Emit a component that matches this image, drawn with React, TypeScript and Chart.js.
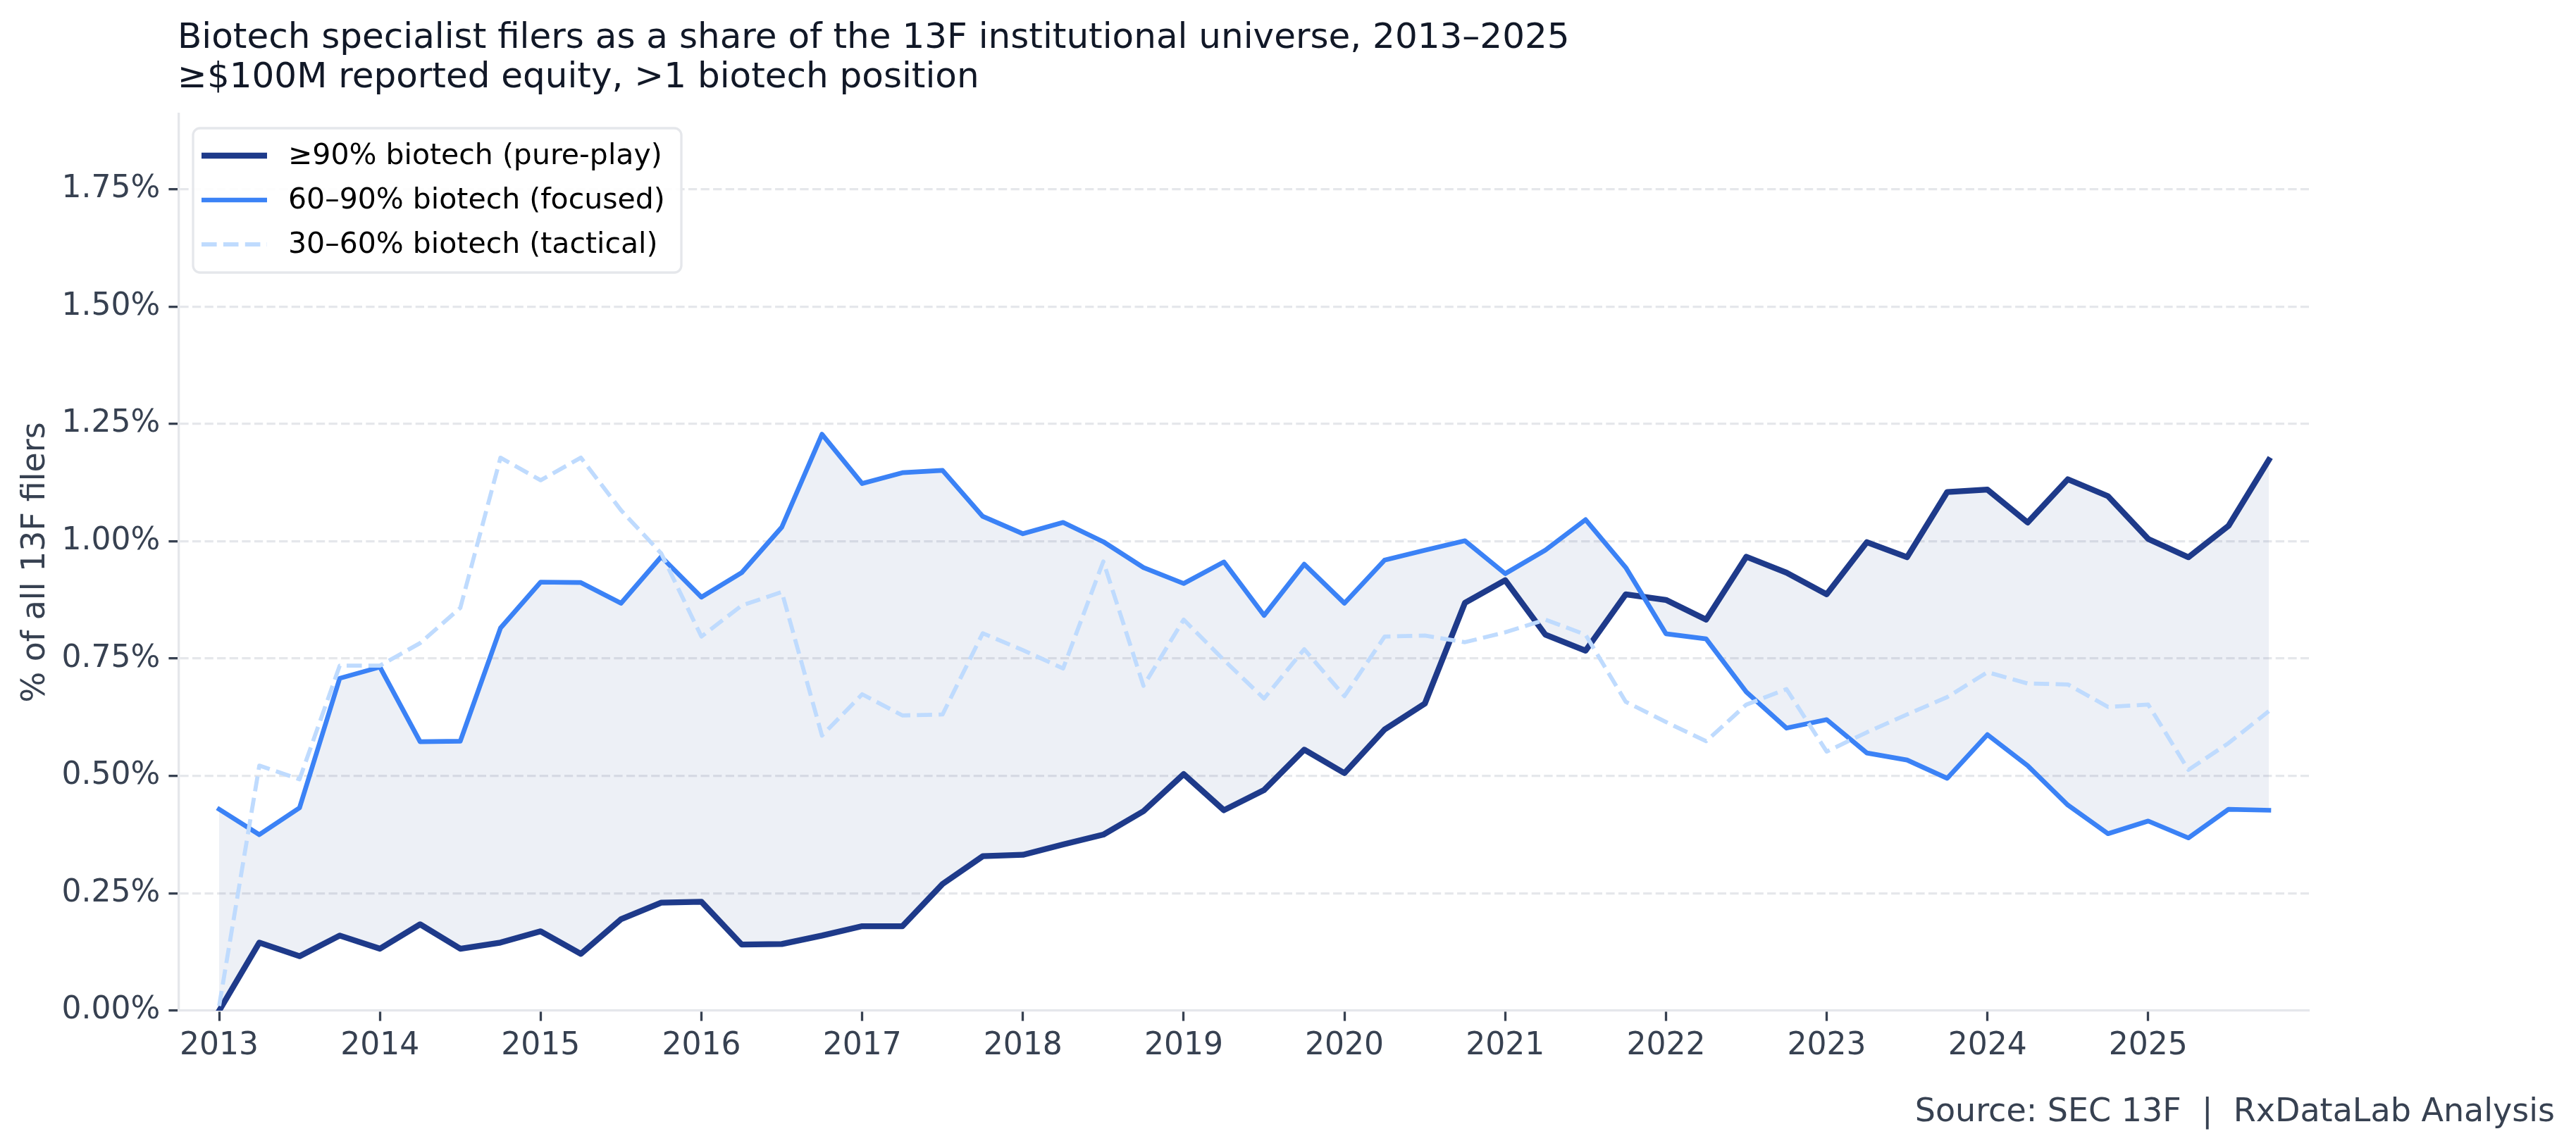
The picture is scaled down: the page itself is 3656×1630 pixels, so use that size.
import { useEffect, useRef } from 'react';
import { Chart, registerables } from 'chart.js';

Chart.register(...registerables);

// Quarterly reporting periods (13F filings)
const quarters = [
  '2013-Q1', '2013-Q2', '2013-Q3', '2013-Q4',
  '2014-Q1', '2014-Q2', '2014-Q3', '2014-Q4',
  '2015-Q1', '2015-Q2', '2015-Q3', '2015-Q4',
  '2016-Q1', '2016-Q2', '2016-Q3', '2016-Q4',
  '2017-Q1', '2017-Q2', '2017-Q3', '2017-Q4',
  '2018-Q1', '2018-Q2', '2018-Q3', '2018-Q4',
  '2019-Q1', '2019-Q2', '2019-Q3', '2019-Q4',
  '2020-Q1', '2020-Q2', '2020-Q3', '2020-Q4',
  '2021-Q1', '2021-Q2', '2021-Q3', '2021-Q4',
  '2022-Q1', '2022-Q2', '2022-Q3', '2022-Q4',
  '2023-Q1', '2023-Q2', '2023-Q3', '2023-Q4',
  '2024-Q1', '2024-Q2', '2024-Q3', '2024-Q4',
  '2025-Q1', '2025-Q2', '2025-Q3', '2025-Q4',
];

// Share of all 13F filers, in percent
const purePlay = [
  0.0, 0.145, 0.116, 0.16, 0.132, 0.184, 0.132, 0.145, 0.169, 0.121, 0.195, 0.23,
  0.232, 0.141, 0.142, 0.16, 0.18, 0.18, 0.27, 0.329, 0.332, 0.354, 0.375, 0.425,
  0.504, 0.427, 0.47, 0.556, 0.506, 0.599, 0.654, 0.869, 0.917, 0.801, 0.767, 0.887,
  0.875, 0.833, 0.967, 0.933, 0.887, 0.998, 0.966, 1.105, 1.11, 1.04, 1.132, 1.096,
  1.005, 0.966, 1.033, 1.173,
];

const focused = [
  0.429, 0.375, 0.432, 0.708, 0.732, 0.573, 0.574, 0.815, 0.913, 0.912, 0.868, 0.967,
  0.881, 0.933, 1.03, 1.228, 1.123, 1.146, 1.151, 1.053, 1.016, 1.04, 0.999, 0.944,
  0.91, 0.956, 0.842, 0.951, 0.868, 0.96, 0.981, 1.001, 0.931, 0.981, 1.046, 0.944,
  0.803, 0.792, 0.679, 0.602, 0.62, 0.549, 0.534, 0.495, 0.588, 0.522, 0.438, 0.377,
  0.404, 0.368, 0.429, 0.427,
];

const tactical = [
  0.01, 0.522, 0.493, 0.735, 0.735, 0.783, 0.858, 1.178, 1.13, 1.178, 1.066, 0.974,
  0.797, 0.863, 0.892, 0.586, 0.674, 0.629, 0.631, 0.804, 0.768, 0.729, 0.957, 0.692,
  0.833, 0.747, 0.665, 0.77, 0.67, 0.797, 0.799, 0.785, 0.806, 0.833, 0.801, 0.658,
  0.615, 0.574, 0.652, 0.685, 0.552, 0.593, 0.631, 0.668, 0.721, 0.697, 0.695, 0.647,
  0.652, 0.513, 0.57, 0.638,
];

const yearTicks = [2013, 2014, 2015, 2016, 2017, 2018, 2019, 2020, 2021, 2022, 2023, 2024, 2025];
const shareTicks = [0, 0.25, 0.5, 0.75, 1.0, 1.25, 1.5, 1.75];

const seriesLabels = [
  '≥90% biotech (pure-play)',
  '60–90% biotech (focused)',
  '30–60% biotech (tactical)',
];

const titleLines = [
  'Biotech specialist filers as a share of the 13F institutional universe, 2013–2025',
  '≥$100M reported equity, >1 biotech position',
];
const sourceNote = 'Source: SEC 13F  |  RxDataLab Analysis';
const yAxisTitle = '% of all 13F filers';

const FONT = '"DejaVu Sans", sans-serif';
const SLATE = '#374151';
const RULE = '#e5e7eb';

const toYear = (q: string) => {
  const [y, n] = q.split('-Q');
  return Number(y) + (Number(n) - 1) / 4;
};

// Title, source note, axis title and an in-plot legend box
const decorPlugin = {
  id: 'decor',
  afterDraw(chart: any) {
    const { ctx, chartArea } = chart;
    ctx.save();
    ctx.fillStyle = '#111827';
    ctx.font = `50px ${FONT}`;
    ctx.textAlign = 'left';
    ctx.textBaseline = 'alphabetic';
    ctx.fillText(titleLines[0], 252, 68);
    ctx.fillText(titleLines[1], 252, 124);

    ctx.fillStyle = SLATE;
    ctx.font = `46px ${FONT}`;
    ctx.textAlign = 'right';
    ctx.fillText(sourceNote, 3626, 1592);

    ctx.translate(51, (chartArea.top + chartArea.bottom) / 2);
    ctx.rotate(-Math.PI / 2);
    ctx.textAlign = 'center';
    ctx.textBaseline = 'middle';
    ctx.fillText(yAxisTitle, 0, 0);
    ctx.restore();

    // legend
    ctx.save();
    const bx = 274, by = 182, bw = 693, bh = 205, r = 10;
    ctx.beginPath();
    ctx.roundRect(bx, by, bw, bh, r);
    ctx.fillStyle = 'rgba(255,255,255,0.9)';
    ctx.fill();
    ctx.lineWidth = 3.3;
    ctx.strokeStyle = RULE;
    ctx.stroke();
    chart.data.datasets.forEach((ds: any, k: number) => {
      const cy = 221 + k * 63;
      ctx.beginPath();
      ctx.setLineDash(ds.borderDash || []);
      ctx.lineWidth = ds.borderWidth;
      ctx.strokeStyle = ds.borderColor;
      ctx.lineCap = 'butt';
      ctx.moveTo(286, cy);
      ctx.lineTo(379, cy);
      ctx.stroke();
      ctx.setLineDash([]);
      ctx.fillStyle = '#000000';
      ctx.font = `41px ${FONT}`;
      ctx.textAlign = 'left';
      ctx.textBaseline = 'middle';
      ctx.fillText(ds.label, 409, cy + 1);
    });
    ctx.restore();
  },
};

export default function App() {
  const canvasRef = useRef<HTMLCanvasElement>(null);

  useEffect(() => {
    document.body.style.margin = '0';
    const canvas = canvasRef.current;
    if (!canvas) return;
    const xs = quarters.map(toYear);
    const pts = (vals: number[]) => vals.map((v, i) => ({ x: xs[i], y: v }));

    Chart.defaults.font.family = FONT;

    const chart = new Chart(canvas, {
      type: 'line',
      data: {
        datasets: [
          {
            label: seriesLabels[0],
            data: pts(purePlay),
            borderColor: '#1e3a8a',
            borderWidth: 8.3,
            borderCapStyle: 'square',
            borderJoinStyle: 'round',
            backgroundColor: 'rgba(30,58,138,0.08)',
            fill: '+1',
            order: 2,
          },
          {
            label: seriesLabels[1],
            data: pts(focused),
            borderColor: '#3b82f6',
            borderWidth: 6.7,
            borderCapStyle: 'square',
            borderJoinStyle: 'round',
            fill: false,
            order: 1,
          },
          {
            label: seriesLabels[2],
            data: pts(tactical),
            borderColor: '#bfdbfe',
            borderWidth: 5.8,
            borderDash: [21.6, 9.3],
            borderCapStyle: 'butt',
            borderJoinStyle: 'round',
            fill: false,
            order: 0,
          },
        ],
      },
      options: {
        responsive: false,
        animation: false,
        devicePixelRatio: 1,
        layout: { padding: { top: 162, right: 379, left: 0, bottom: 0 } },
        elements: { point: { radius: 0 }, line: { tension: 0 } },
        plugins: {
          legend: { display: false },
          tooltip: { enabled: false },
          title: { display: false },
          filler: { drawTime: 'beforeDatasetsDraw' },
        },
        scales: {
          x: {
            type: 'linear',
            min: 2012.75,
            max: 2026,
            afterBuildTicks: (s: any) => {
              s.ticks = yearTicks.map((v) => ({ value: v }));
            },
            afterFit: (s: any) => {
              s.height = 195;
            },
            grid: {
              drawOnChartArea: false,
              drawTicks: true,
              tickLength: 14.6,
              tickWidth: 3.3,
              tickColor: SLATE,
              color: 'rgba(0,0,0,0)',
            },
            border: { display: true, color: RULE, width: 3.3 },
            ticks: {
              color: SLATE,
              font: { size: 44 },
              padding: 10,
              maxRotation: 0,
              autoSkip: false,
              callback: (v: any) => String(v),
            },
          },
          y: {
            type: 'linear',
            min: 0,
            max: 1.91,
            afterBuildTicks: (s: any) => {
              s.ticks = shareTicks.map((v) => ({ value: v }));
            },
            afterFit: (s: any) => {
              s.width = 254;
            },
            grid: {
              color: (c: any) => (c.tick && c.tick.value === 0 ? 'rgba(0,0,0,0)' : RULE),
              lineWidth: 3.3,
              drawTicks: true,
              tickLength: 14.6,
              tickWidth: 3.3,
              tickColor: SLATE,
            },
            border: { display: true, color: RULE, width: 3.3, dash: [12.3, 5.3] },
            ticks: {
              color: SLATE,
              font: { size: 44 },
              padding: 12,
              callback: (v: any) => Number(v).toFixed(2) + '%',
            },
          },
        },
      },
      plugins: [decorPlugin],
    } as any);

    return () => chart.destroy();
  }, []);

  return (
    <div style={{ position: 'absolute', left: 0, top: 0, width: 3656, height: 1630 }}>
      <canvas ref={canvasRef} width={3656} height={1630} style={{ width: 3656, height: 1630, display: 'block' }} />
    </div>
  );
}
